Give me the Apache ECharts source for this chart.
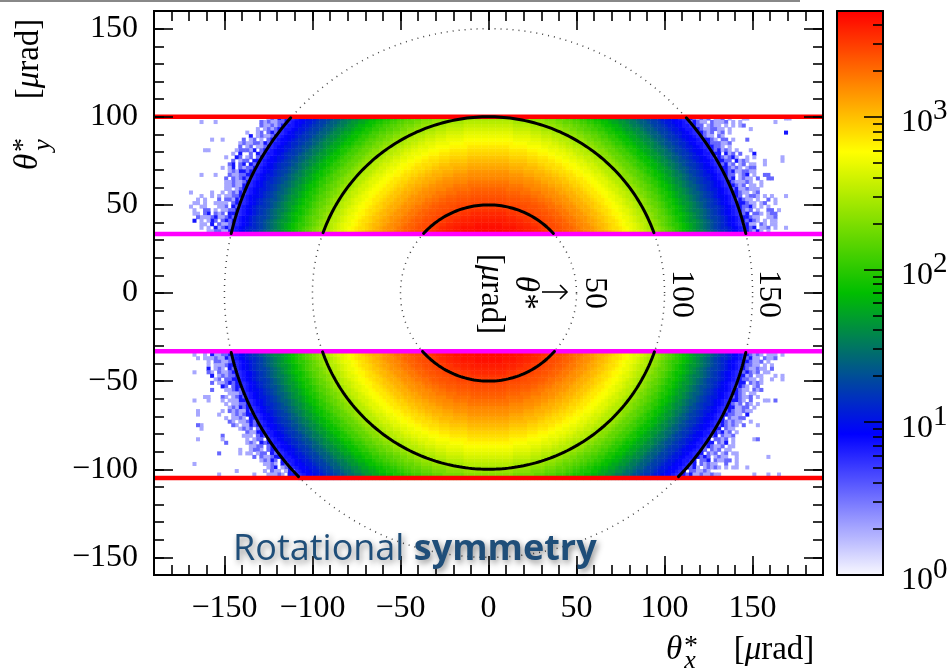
<!DOCTYPE html>
<html><head><meta charset="utf-8">
<style>html,body{margin:0;padding:0;background:#fff}#c{width:951px;height:669px}</style>
<script src="https://cdn.jsdelivr.net/npm/echarts@6/dist/echarts.min.js"></script>
</head><body><div id="c"></div>
<script>
// ---------- data ----------
const tickLabels = [-150, -100, -50, 0, 50, 100, 150];
const colorbarDecades = [0, 1, 2, 3];
const colorbarMax = 3.69;           // log10 of the top of the scale
const ringRadii = [50, 100, 150];
const cutsRed = [100, -105];
const cutsMagenta = [33.5, -33];
const upperBand = [34, 100];
const lowerBand = [-106, -34];
// counts per 2 µrad radial ring, first ring starts at r = 32
const ringStart = 32;
const ringCounts = [4800,4600,4400,4200,3900,3700,3500,3200,3000,2800,2600,2450,2300,2150,1950,1800,1600,1500,1400,1250,
 1150,1050,950,850,780,710,630,560,510,460,410,360,320,280,245,215,185,160,140,120,
 102,87,74,63,54,46,39,33,28,24,20,17,15,13,11,9.3,8,7,6];
// cells beyond r = 150, one string per 2 µrad row, written outward from the r = 150 rim
const fringeCounts = {a: 2, b: 3.5, c: 7};
const fringeUpperLeft = ["ccbcaba","cbbaabab............a...a","cbabaab","cbaba.a","bcb.ba..a","cbaaba.c","cb.a.ba.b.....a..a","bcabbaaba","cbaa.ba.b","cb.cabbba.......aa","bc.b..c.a","cb.ba.bc..a","cc.bba.b","bc.cb.cb","cbbab.ca.a","cbccaba","ccbbaab...a...a","bcbab.b","cbaabaa","caabaa","cba.aa","bcaba.a..a.....a","cbbaa.a.a..a","bcabb.b...a.a","cb.aaaa..a.aa","bc.baa...aa..a","cbbaa.a.bb..a","cc.bab.cb.aa","bcbaacbaaab","cbcb.bca.a.c","cbaab.c.aa","bcbac.a.a","caabbaa"];
const fringeUpperRight = ["ccbabab.aab.a...aa..........aa","bcbaa.baaab.a.a.........a","cbb.abaa.a.a.ab","cbaabbaa.a.....a","cbab.ab.a...............c","cbaa.ba","ccba.bb.a...b","cbbbaab","ccbba.a","cbcaba.a...a","cc.cab.b...c","bcbabca..a.a.......a","ccbb.caba....a....a","bcab.ab.aa..a","ccbaba.abb","cbcaabbaa","cbb.abc.a..bb","bc.abaa.b..bb","cbaaaba..a","cbab.aa.a","bcaabaaa","ccbaa.ab","cb.abba.a.a...a","bcbaa.a..b.a","ccbaa.ab..a","cbbca.a.a","cbab.a..bb.a","bc.bba.abb","ccbaa..aab","cbcba.a.aa","bcaa.ba.aa","cbc.aab.a..a","cbaca.a"];
const fringeLowerLeft = ["cbbaac.a..a","bcaabaaa.a","cbaabb.a","ccbaaa.a","bc.aba.c","cbaab.ab...a","cbbaba.c","ccbb.ba","cbcbaa.b","ccb.bc","bcbaa...b","cbaaa","bcba.ab...aa","ccaaa.a...a...a","cbbaa.a","cbcaba","bcaabab.a......a","ccbaba...a.....a","cc.abaa.a","bcbaa.ab","cbcaa.ab........ab","cb.baba..........a","ccaab","bcb.aaa.....b","c.bba.a......a......a","cbc.aba.....b","cb.bbaa","ccb.abba..a","bc.bba.aa.a.....b","ccbaab.b","c.bcaba","bc.abaa...................a","cba.cba","bca.aab.a.......a","cc.abaaa...a.........a"];
const fringeLowerRight = ["cbaba.aaa.a","bcaa.baab","ccbaab.a","cbbaa.a.a","cbaabaa.b","bcbab.aa","ccab.aa...a.a","cbbaa.a..a..a","cc.baba","bcba.ab","cbaa.bab","ccba.aa","bcbaab.a","ccba.b...aa.b","cbab.ba.a","ccaabb.a","bcbaabaa","cbbaa.c","c.baabb","cbabaa..a","bcbaba.b...a","cc.baa","cbcab.a","bc.baab","c.bbab.a.....ab","cc.bac.a","bcbaab.aa","cb.bab.aa","c.bab.ab.aa","cbcb.abaa..a........a","c.bbc.baabb.a","bc.babaa..b..a","cbca.ababa.a.aa..a","c.bbaaba","cbcaabaabaa.........a...a..a"];
// colours of the scale, evenly spaced from bottom to top
const paletteColors = ['rgb(248,248,255)','rgb(198,198,255)','rgb(149,149,255)','rgb(99,99,255)','rgb(50,50,255)','rgb(0,0,255)',
 'rgb(0,38,204)','rgb(0,76,153)','rgb(0,114,102)','rgb(0,152,51)','rgb(0,190,0)',
 'rgb(51,203,0)','rgb(102,216,0)','rgb(153,229,0)','rgb(204,242,0)','rgb(255,255,0)',
 'rgb(255,204,0)','rgb(255,153,0)','rgb(255,102,0)','rgb(255,51,0)','rgb(255,0,0)'];

// ---------- derived ----------
const xRange = 190, yRange = 160, binW = 2;
const xBins = [], yBins = [];
for (let v = -xRange + 1; v < xRange; v += binW) xBins.push(v);
for (let v = -yRange + 1; v < yRange; v += binW) yBins.push(v);
const xIdx = v => (v + xRange - 1) / binW, yIdx = v => (v + yRange - 1) / binW;
const cells = [];
const put = (x, y, c) => { cells.push([xIdx(x), yIdx(y), Math.log10(c)]); };
const inBand = y => (y > upperBand[0] && y < upperBand[1]) || (y > lowerBand[0] && y < lowerBand[1]);
for (const y of yBins) {
  if (!inBand(y)) continue;
  for (const x of xBins) {
    const r = Math.hypot(x, y), k = Math.floor((r - ringStart) / 2);
    if (r < 150) put(x, y, ringCounts[Math.max(0, Math.min(k, ringCounts.length - 1))]);
  }
}
function addFringe(rows, firstY, dy, side) {
  rows.forEach((s, i) => {
    const y = firstY + dy * i;
    const rim = Math.sqrt(150 * 150 - y * y);
    let start = Math.floor(rim / 2) * 2 + 1;
    if (start < rim) start += 2;
    [...s].forEach((ch, j) => {
      const c = fringeCounts[ch];
      const x = side * (start + 2 * j);
      if (c && Math.abs(x) < xRange) put(x, y, c);
    });
  });
}
addFringe(fringeUpperLeft, 99, -2, -1);
addFringe(fringeUpperRight, 99, -2, 1);
addFringe(fringeLowerLeft, -35, -2, -1);
addFringe(fringeLowerRight, -35, -2, 1);

function circle(r, keep) {
  const pts = [];
  for (let a = 0; a <= 360; a += 0.5) {
    const x = r * Math.cos(a * Math.PI / 180), y = r * Math.sin(a * Math.PI / 180);
    pts.push(!keep || keep(y) ? [x, y] : ['-', '-']);
  }
  return pts;
}
const blackKeep = y => (y >= cutsMagenta[0] && y <= cutsRed[0]) || (y <= cutsMagenta[1] && y >= cutsRed[1]);
const hline = (y, color, w) => ({type:'line', xAxisIndex:0, yAxisIndex:0, z:6, silent:true, symbol:'none', animation:false,
  data:[[-xRange,y],[xRange,y]], lineStyle:{color, width:w}});

const serif = 'Liberation Serif';
const fmtTick = v => v < 0 ? '\u2212' + Math.abs(v) : String(v);
const base = {z:10, axisLine:{show:true, onZero:false, lineStyle:{color:'#000', width:2}}, splitLine:{show:false}, minorSplitLine:{show:false}, axisLabel:{show:false}, animation:false};
const minorT = {show:true, inside:true, length:10, lineStyle:{color:'#000', width:1.6}};
const majorT = {show:true, inside:true, length:19, customValues:tickLabels, lineStyle:{color:'#000', width:1.6}};
const labelS = {show:true, customValues:tickLabels, formatter:fmtTick, color:'#000', fontFamily:serif, fontSize:32, hideOverlap:false};
const xv = (position, extra) => Object.assign({}, base, {type:'value', gridIndex:0, min:-xRange, max:xRange, position}, extra);
const yv = (position, extra) => Object.assign({}, base, {type:'value', gridIndex:0, min:-yRange, max:yRange, position}, extra);

const decadeValues = colorbarDecades;
const minorCb = [];
for (let d = 0; d < 4; d++) for (let m = 2; m <= 9; m++) { const v = d + Math.log10(m); if (v < colorbarMax) minorCb.push(v); }
const cbX = (position) => Object.assign({}, base, {type:'value', gridIndex:1, min:0, max:1, position, axisTick:{show:false}});
const cbY = (position, extra) => Object.assign({}, base, {type:'value', gridIndex:1, min:0, max:colorbarMax, position}, extra);
const rad = 'italic 33px "Liberation Serif"', reg = '33px "Liberation Serif"';
const radRich = {n:{font:reg, fill:'#000'}, i:{font:rad, fill:'#000'}};
const radText = '{n|[}{i|\u03bc}{n|rad]}';
const shadow = {fill:'#1F4E79', textShadowColor:'rgba(0,0,0,0.45)', textShadowBlur:6, textShadowOffsetX:2, textShadowOffsetY:3};

const option = {
  animation:false, backgroundColor:'#fff',
  grid:[{left:154, top:11, width:669, height:564}, {left:837, top:11, width:46, height:564}],
  xAxis:[
    xv('bottom',{interval:10, axisTick:minorT}),
    xv('top',{interval:10, axisTick:minorT}),
    xv('bottom',{axisTick:majorT, axisLabel:Object.assign({}, labelS, {margin:18})}),
    xv('top',{axisTick:majorT}),
    {type:'category', gridIndex:0, data:xBins, show:false},
    cbX('bottom'), cbX('top')
  ],
  yAxis:[
    yv('left',{interval:10, axisTick:minorT}),
    yv('right',{interval:10, axisTick:minorT}),
    yv('left',{axisTick:majorT, axisLabel:Object.assign({}, labelS, {margin:16})}),
    yv('right',{axisTick:majorT}),
    {type:'category', gridIndex:0, data:yBins, show:false},
    cbY('right',{axisTick:{show:true, inside:true, length:19, customValues:decadeValues, lineStyle:{color:'#000', width:1.6}},
      axisLabel:{show:true, customValues:decadeValues, margin:18, align:'left', formatter:v=>'{b|10}{s|'+v+'}', rich:{
        b:{fontFamily:serif, fontSize:32, color:'#000', padding:[12,0,0,0]},
        s:{fontFamily:serif, fontSize:29, color:'#000', padding:[0,0,10,0]}}}}),
    cbY('right',{axisTick:{show:true, inside:true, length:10, customValues:minorCb, lineStyle:{color:'#000', width:1.6}}}),
    cbY('left',{axisTick:{show:false}})
  ],
  visualMap:{type:'continuous', seriesIndex:0, dimension:2, min:0, max:colorbarMax, show:true, calculable:false, hoverLink:false, realtime:false,
    left:837, top:11, itemWidth:46, itemHeight:564, padding:0, text:null, showLabel:false, z:1, inRange:{color:paletteColors}, textStyle:{color:'transparent', fontSize:1}},
  series:[
    {type:'heatmap', xAxisIndex:4, yAxisIndex:4, data:cells, silent:true, progressive:0, z:2, itemStyle:{borderWidth:0}, emphasis:{disabled:true}},
    ...ringRadii.map(r => ({type:'line', xAxisIndex:0, yAxisIndex:0, z:3, silent:true, symbol:'none', data:circle(r), lineStyle:{color:'#444', width:1.5, type:[1,5]}})),
    ...ringRadii.map(r => ({type:'line', xAxisIndex:0, yAxisIndex:0, z:7, silent:true, symbol:'none', connectNulls:false, data:circle(r, blackKeep), lineStyle:{color:'#000', width:3, cap:'round'}})),
    ...cutsRed.map(y => hline(y, '#f00', 4.5)),
    ...cutsMagenta.map(y => hline(y, '#f0f', 4.5))
  ],
  graphic:[
    {type:'rect', z:20, shape:{x:0,y:0,width:800,height:2}, style:{fill:'#888'}},
    ...[['50',594,293],['100',681,294],['150',768,294]].map(([t,x,y]) => ({type:'text', z:20, x, y, rotation:-Math.PI/2, style:{text:t, font:'32px "Liberation Serif"', fill:'#000', align:'center', verticalAlign:'middle'}})),
    // arrow next to the theta label
    {type:'line', z:20, shape:{x1:542,y1:292,x2:567,y2:292}, style:{stroke:'#000', lineWidth:1.6}},
    {type:'polyline', z:20, shape:{points:[[560,285],[567,292],[560,299]]}, style:{stroke:'#000', lineWidth:1.6, fill:null}},
    {type:'text', z:20, x:525, y:292, rotation:-Math.PI/2, style:{text:'\u03b8*', font:rad, fill:'#000', align:'center', verticalAlign:'middle'}},
    {type:'text', z:20, x:491, y:294, rotation:-Math.PI/2, style:{text:radText, align:'center', verticalAlign:'middle', rich:radRich}},
    // y axis title
    {type:'text', z:20, x:29, y:59, rotation:Math.PI/2, style:{text:radText, align:'center', verticalAlign:'middle', rich:radRich}},
    {type:'text', z:20, x:28, y:162, rotation:Math.PI/2, style:{text:'\u03b8', font:rad, fill:'#000', align:'center', verticalAlign:'middle'}},
    {type:'text', z:20, x:24, y:145, rotation:Math.PI/2, style:{text:'*', font:'28px "Liberation Serif"', fill:'#000', align:'center', verticalAlign:'middle'}},
    {type:'text', z:20, x:43, y:145, rotation:Math.PI/2, style:{text:'y', font:'italic 26px "Liberation Serif"', fill:'#000', align:'center', verticalAlign:'middle'}},
    // x axis title
    {type:'text', z:20, x:674, y:650, style:{text:'\u03b8', font:rad, fill:'#000', align:'center', verticalAlign:'middle'}},
    {type:'text', z:20, x:691, y:647, style:{text:'*', font:'28px "Liberation Serif"', fill:'#000', align:'center', verticalAlign:'middle'}},
    {type:'text', z:20, x:690, y:661, style:{text:'x', font:'italic 26px "Liberation Serif"', fill:'#000', align:'center', verticalAlign:'middle'}},
    {type:'text', z:20, x:774, y:650, style:{text:radText, align:'center', verticalAlign:'middle', rich:radRich}},
    // annotation
    {type:'text', z:30, x:233, y:550, style:{text:'{n|Rotational }{b|symmetry}', align:'left', verticalAlign:'middle', rich:{
      n:Object.assign({font:'36px "Open Sans"'}, shadow),
      b:Object.assign({font:'bold 36px "Open Sans"'}, shadow)}}}
  ]
};
const chart = echarts.init(document.getElementById('c'), null, {renderer:'canvas'});
chart.setOption(option);
</script></body></html>
